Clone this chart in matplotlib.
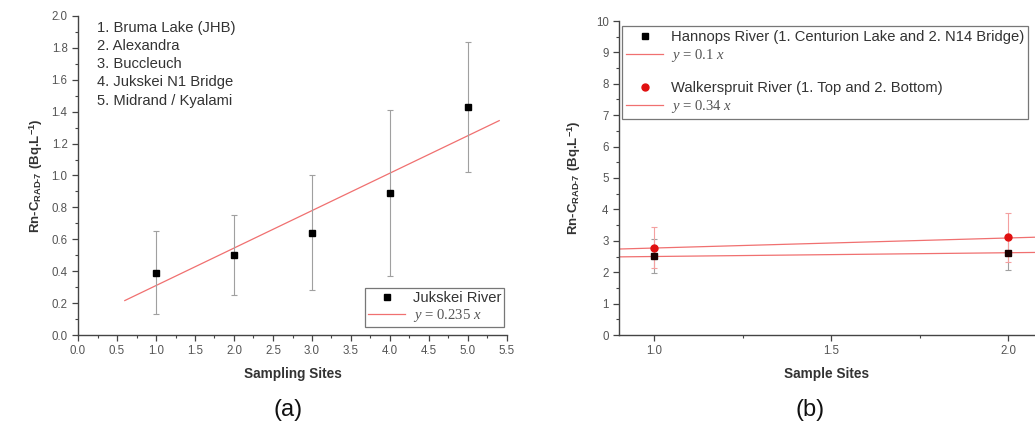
import matplotlib
matplotlib.use("Agg")
import matplotlib.pyplot as plt
import numpy as np
from matplotlib.lines import Line2D
from matplotlib.ticker import MultipleLocator

plt.rcParams['font.family'] = ['Liberation Sans', 'DejaVu Sans']
plt.rcParams['mathtext.fontset'] = 'custom'
plt.rcParams['mathtext.rm'] = 'Liberation Sans'
plt.rcParams['mathtext.bf'] = 'Liberation Sans:bold'
plt.rcParams['mathtext.it'] = 'Liberation Serif:italic'

# ---- Panel (a) data: Jukskei River ----
sites_a = [1, 2, 3, 4, 5]
conc_a = [0.39, 0.50, 0.64, 0.89, 1.43]
err_low_a = [0.26, 0.25, 0.36, 0.52, 0.41]
err_high_a = [0.26, 0.25, 0.36, 0.52, 0.41]
fit_a_slope = 0.235
fit_a_icpt = 0.075
fit_a_range = [0.6, 5.4]
site_names = ["1. Bruma Lake (JHB)", "2. Alexandra", "3. Buccleuch",
              "4. Jukskei N1 Bridge", "5. Midrand / Kyalami"]

# ---- Panel (b) data ----
sites_b = [1, 2]
hannops = [2.52, 2.62]
hannops_err = [0.54, 0.55]
walker = [2.78, 3.11]
walker_err = [0.66, 0.77]
fit_h_slope, fit_h_icpt = 0.12, 2.38
fit_w_slope, fit_w_icpt = 0.32, 2.45

W, H = 1035, 436
fig = plt.figure(figsize=(W / 100, H / 100), dpi=100)

tick_col = '#555555'
spine_col = '#444444'
fit_col = '#f07070'
err_col = '#a0a0a0'
FS = 10.6


def style(ax):
    for s in ['top', 'right']:
        ax.spines[s].set_visible(False)
    for s in ['left', 'bottom']:
        ax.spines[s].set_color(spine_col)
        ax.spines[s].set_linewidth(1.0)
    ax.tick_params(which='both', direction='out', colors=spine_col,
                   labelcolor=tick_col, labelsize=8.3)
    ax.tick_params(which='major', length=4, width=0.9)
    ax.tick_params(which='minor', length=2.5, width=0.8)


ylab = r"Rn-C$_{\mathbf{RAD‐7}}$ (Bq.L$^{\mathbf{-1}}$)"

# ---------- Panel (a) ----------
axa = fig.add_axes([78 / W, 1 - 335 / H, (507 - 78) / W, (335 - 16) / H])
style(axa)
axa.set_xlim(0, 5.5)
axa.set_ylim(0, 2.0)
axa.xaxis.set_major_locator(MultipleLocator(0.5))
axa.xaxis.set_minor_locator(MultipleLocator(0.25))
axa.yaxis.set_major_locator(MultipleLocator(0.2))
axa.yaxis.set_minor_locator(MultipleLocator(0.1))
axa.xaxis.set_major_formatter(matplotlib.ticker.FormatStrFormatter('%.1f'))
axa.yaxis.set_major_formatter(matplotlib.ticker.FormatStrFormatter('%.1f'))

xf = np.array(fit_a_range)
axa.plot(xf, fit_a_icpt + fit_a_slope * xf, color=fit_col, lw=0.9)
axa.errorbar(sites_a, conc_a, yerr=[err_low_a, err_high_a], fmt='none',
             ecolor=err_col, elinewidth=0.8, capsize=2, capthick=0.8)
axa.plot(sites_a, conc_a, 's', color='black', ms=5, ls='none')

axa.set_xlabel("Sampling Sites", fontsize=9.8, fontweight='bold', color='#333333', labelpad=7)
axa.set_ylabel(ylab, fontsize=9.5, fontweight='bold', color='#333333', labelpad=5)

for i, nm in enumerate(site_names):
    axa.text(0.045, 0.963 - i * 0.057, nm, transform=axa.transAxes,
             fontsize=FS, color='#333333', va='center', ha='left')

ha = [Line2D([], [], marker='s', color='black', ls='none', ms=5),
      Line2D([], [], color=fit_col, lw=0.9)]
leg = axa.legend(ha, ["Jukskei River", r"$y$ = 0.235 $x$"], loc='lower right',
                 bbox_to_anchor=(1.0, 0.015), fontsize=FS, frameon=True, fancybox=False,
                 edgecolor='#555555', handlelength=2.5, handletextpad=0.5,
                 borderpad=0.2, labelspacing=0.15, borderaxespad=0.2)
leg.get_frame().set_linewidth(0.9)
for t in leg.get_texts():
    t.set_color('#333333')
leg.get_texts()[1].set_family('Liberation Serif')
leg.get_texts()[1].set_color('#555555')

# ---------- Panel (b) ----------
axb = fig.add_axes([619 / W, 1 - 335 / H, (W - 619) / W, (335 - 21) / H])
style(axb)
axb.set_xlim(0.9, 2.075)
axb.set_ylim(0, 10)
axb.xaxis.set_major_locator(MultipleLocator(0.5))
axb.xaxis.set_minor_locator(MultipleLocator(0.25))
axb.yaxis.set_major_locator(MultipleLocator(1))
axb.yaxis.set_minor_locator(MultipleLocator(0.5))
axb.xaxis.set_major_formatter(matplotlib.ticker.FormatStrFormatter('%.1f'))

xb = np.array(axb.get_xlim())
axb.plot(xb, fit_h_icpt + fit_h_slope * xb, color=fit_col, lw=0.9)
axb.plot(xb, fit_w_icpt + fit_w_slope * xb, color=fit_col, lw=0.9)
axb.errorbar(sites_b, hannops, yerr=hannops_err, fmt='none', ecolor=err_col,
             elinewidth=0.8, capsize=2, capthick=0.8)
axb.errorbar(sites_b, walker, yerr=walker_err, fmt='none', ecolor='#f4a0a0',
             elinewidth=0.8, capsize=2, capthick=0.8)
axb.plot(sites_b, walker, 'o', color='#e01010', ms=5, ls='none')
axb.plot(sites_b, hannops, 's', color='#1a0000', ms=5, ls='none')

axb.set_xlabel("Sample Sites", fontsize=9.8, fontweight='bold', color='#333333', labelpad=7)
axb.set_ylabel(ylab, fontsize=9.5, fontweight='bold', color='#333333', labelpad=9)

hb = [Line2D([], [], marker='s', color='black', ls='none', ms=5),
      Line2D([], [], color=fit_col, lw=0.9),
      Line2D([], [], ls='none'),
      Line2D([], [], marker='o', color='#e01010', ls='none', ms=5),
      Line2D([], [], color=fit_col, lw=0.9)]
lb = ["Hannops River (1. Centurion Lake and 2. N14 Bridge)", r"$y$ = 0.1 $x$", " ",
      "Walkerspruit River (1. Top and 2. Bottom)", r"$y$ = 0.34 $x$"]
legb = axb.legend(hb, lb, loc='upper left', bbox_to_anchor=(0.0, 0.995),
                  fontsize=FS, frameon=True, fancybox=False, edgecolor='#555555',
                  handlelength=2.5, handletextpad=0.5, borderpad=0.3,
                  labelspacing=0.2, borderaxespad=0.2)
legb.get_frame().set_linewidth(0.9)
for i, t in enumerate(legb.get_texts()):
    t.set_color('#333333')
    if i in (1, 4):
        t.set_family('Liberation Serif')
        t.set_color('#555555')
legb.get_texts()[2].set_fontsize(3)

fig.text(288 / W, 1 - 410 / H, "(a)", fontsize=17, ha='center', va='center', color='#111111')
fig.text(810 / W, 1 - 410 / H, "(b)", fontsize=17, ha='center', va='center', color='#111111')

fig.savefig("out.png", dpi=100)
